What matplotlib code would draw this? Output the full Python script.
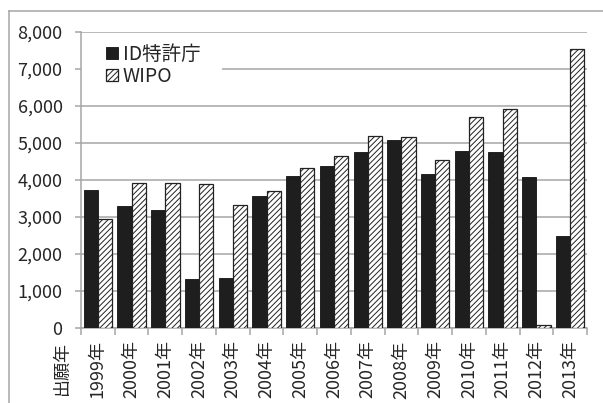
import matplotlib
matplotlib.use('Agg')
import matplotlib.pyplot as plt
from matplotlib.lines import Line2D
from matplotlib.patches import Rectangle, Patch
import numpy as np

plt.rcParams['font.family'] = ['Noto Sans CJK JP', 'DejaVu Sans']
plt.rcParams['hatch.linewidth'] = 0.7

# データ
years = ['1999年', '2000年', '2001年', '2002年', '2003年', '2004年', '2005年', '2006年',
         '2007年', '2008年', '2009年', '2010年', '2011年', '2012年', '2013年']
id_office = [3730, 3290, 3200, 1330, 1340, 3560, 4100, 4380, 4770, 5090, 4170, 4790, 4770, 4090, 2490]
wipo = [2940, 3910, 3930, 3880, 3320, 3700, 4320, 4650, 5180, 5160, 4550, 5700, 5910, 70, 7550]
series_names = ['ID特許庁', 'WIPO']

grid_col = '#a6a6a6'
text_col = '#262626'
fs = 13

fig = plt.figure(figsize=(6.03, 4.03), dpi=100)
ax = fig.add_axes([81 / 603, 1 - 328 / 403, 506 / 603, 296 / 403])

x = np.arange(len(years))
w = 0.42
ax.bar(x - w / 2, id_office, width=w, color='#1e1e1e', edgecolor='#111111', linewidth=0.6, zorder=3)
ax.bar(x + w / 2, wipo, width=w, color='white', edgecolor='#222222', linewidth=0.9,
       hatch='//////', zorder=3)

ax.set_xlim(-0.5, len(years) - 0.5)
ax.set_ylim(0, 8000)
ax.set_yticks(np.arange(0, 8001, 1000))
ax.set_yticklabels([f'{v:,}' for v in range(0, 8001, 1000)])
ax.yaxis.grid(True, color=grid_col, linewidth=1.1)
ax.set_axisbelow(True)

ax.set_xticks(x)
ax.set_xticklabels(years, rotation=90)
ax.set_xticks(np.arange(-0.5, len(years)), minor=True)
ax.tick_params(axis='x', which='major', length=0, pad=9, labelsize=fs, labelcolor=text_col)
ax.tick_params(axis='x', which='minor', length=5, width=1.1, color=grid_col)
ax.tick_params(axis='y', length=4.3, width=1.1, color=grid_col, pad=9, labelsize=fs, labelcolor=text_col)

for s in ['top', 'right']:
    ax.spines[s].set_visible(False)
for s in ['left', 'bottom']:
    ax.spines[s].set_color(grid_col)
    ax.spines[s].set_linewidth(1.1)

# 凡例の背景
ax.add_patch(Rectangle((0, (328 - 90) / 296), (222 - 81) / 506, 52 / 296,
                       transform=ax.transAxes, facecolor='white', edgecolor='none', zorder=1))
handles = [Patch(facecolor='#1e1e1e', edgecolor='#111111', linewidth=0.6),
           Patch(facecolor='white', edgecolor='#222222', linewidth=0.9, hatch='//////')]
ax.legend(handles, series_names, loc='upper left', bbox_to_anchor=((106 - 81) / 506, (328 - 44) / 296),
          frameon=False, fontsize=14, handlelength=0.6, handleheight=0.6, handletextpad=0.25,
          labelspacing=0.05, borderpad=0, borderaxespad=0, labelcolor=text_col)

fig.text(62 / 603, 1 - 341 / 403, '出願年', rotation=90, ha='center', va='top', fontsize=fs, color=text_col)

# 外枠
fig.add_artist(Line2D([9 / 603, 9 / 603], [0, 1 - 11 / 403], transform=fig.transFigure, color=grid_col, linewidth=1.1))
fig.add_artist(Line2D([9 / 603, 1], [1 - 11 / 403, 1 - 11 / 403], transform=fig.transFigure, color=grid_col, linewidth=1.1))

fig.savefig('out.png', dpi=100)
